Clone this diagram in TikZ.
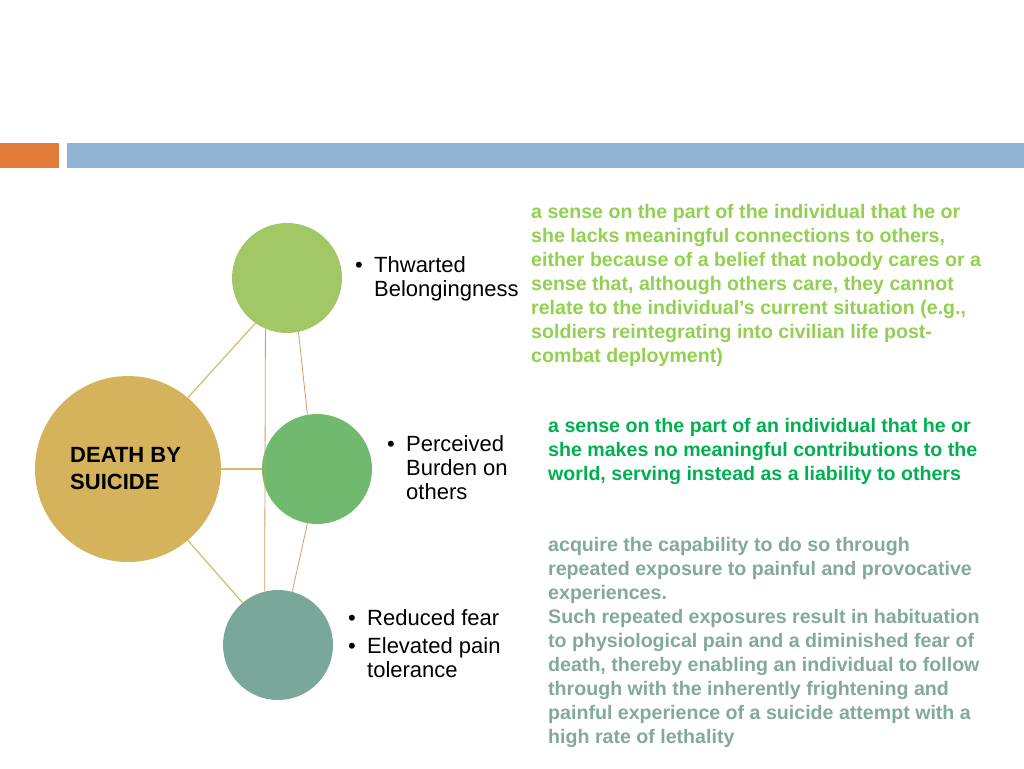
\documentclass[tikz,border=0pt]{standalone}
\usepackage{fontspec}
\setmainfont{Liberation Sans}
\newcommand{\bl}{\makebox[19pt][l]{•}}
\newcommand{\nb}{\hspace*{19pt}}
\begin{document}
\begin{tikzpicture}[x=1pt,y=-1pt,
  circ/.style={circle,inner sep=0pt},
  link/.style={line width=1.2pt},
  bul/.style={anchor=north west,align=left,inner sep=0pt,font=\fontsize{22}{24}\selectfont},
  para/.style={anchor=north west,align=left,inner sep=0pt,font=\fontsize{19.6}{24}\selectfont\bfseries}]
\definecolor{orgbar}{HTML}{E07B39}
\definecolor{bluebar}{HTML}{92B4D4}
\definecolor{gold}{HTML}{D5B25C}
\definecolor{cA}{HTML}{A2C866}
\definecolor{cB}{HTML}{70B96E}
\definecolor{cC}{HTML}{79A89A}
\definecolor{tA}{HTML}{92D050}
\definecolor{tB}{HTML}{00B050}
\definecolor{tC}{HTML}{82A99C}
\definecolor{lnA}{HTML}{D9B86A}
\definecolor{lnB}{HTML}{D99A5E}
\useasboundingbox (0,0) rectangle (1024,768);
\fill[orgbar] (0,143) rectangle (59,168);
\fill[bluebar] (67,143) rectangle (1024,168);
\node[circ,fill=gold,minimum size=186pt] (d) at (128,469) {};
\node[circ,fill=cA,minimum size=110pt] (a) at (287,278) {};
\node[circ,fill=cB,minimum size=110pt] (b) at (317,469) {};
\node[circ,fill=cC,minimum size=110pt] (c) at (278,645) {};
\draw[link,lnA] (d.50) -- (a.235);
\draw[link,lnA] (d.east) -- (b.west);
\draw[link,lnA] (d.-50) -- (c.130);
\draw[lnB,line width=0.8pt] (a.-78) -- (b.100);
\draw[lnB,line width=0.8pt] (b.-100) -- (c.75);
\draw[lnB,line width=0.8pt] (a.-113) -- (c.104);
\node[anchor=west,align=left,inner sep=0pt,font=\fontsize{22}{27}\selectfont\bfseries] (dt) at (70,469) {DEATH BY\\SUICIDE};
\node[bul] (ta) at (355,256) {\bl Thwarted\\\nb Belongingness};
\node[bul] (tb) at (387,435) {\bl Perceived\\\nb Burden on\\\nb others};
\node[bul] (tc) at (348,609) {\bl Reduced fear\\[4pt]\bl Elevated pain\\\nb tolerance};
\node[para,tA] (pa) at (531,204) {a sense on the part of the individual that he or\\she lacks meaningful connections to others,\\either because of a belief that nobody cares or a\\sense that, although others care, they cannot\\relate to the individual’s current situation (e.g.,\\soldiers reintegrating into civilian life post-\\combat deployment)};
\node[para,tB] (pb) at (548,418) {a sense on the part of an individual that he or\\she makes no meaningful contributions to the\\world, serving instead as a liability to others};
\node[para,tC] (pc) at (548,537) {acquire the capability to do so through\\repeated exposure to painful and provocative\\experiences.\\Such repeated exposures result in habituation\\to physiological pain and a diminished fear of\\death, thereby enabling an individual to follow\\through with the inherently frightening and\\painful experience of a suicide attempt with a\\high rate of lethality};
\end{tikzpicture}
\end{document}
